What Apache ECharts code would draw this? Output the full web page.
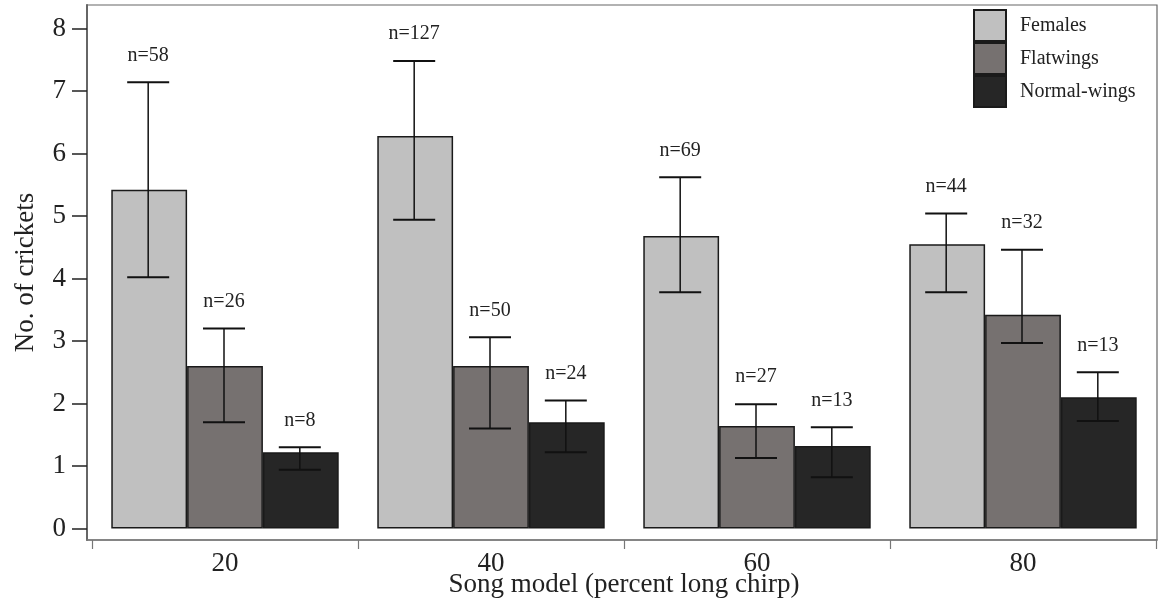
<!DOCTYPE html>
<html>
<head>
<meta charset="utf-8">
<title>Song model</title>
<script src="https://cdn.jsdelivr.net/npm/echarts@6/dist/echarts.min.js"></script>
<style>
  html, body { margin: 0; padding: 0; background: #fff; }
  #main { width: 1158px; height: 604px; }
</style>
</head>
<body>
<div id="main"></div>
<script>
// categories (percent long chirp)
var categories = ['20', '40', '60', '80'];

// mean number of crickets
var females   = [5.42, 6.28, 4.68, 4.55];
var flatwings = [2.60, 2.60, 1.64, 3.42];
var normal    = [1.22, 1.70, 1.32, 2.10];

// error bar ends
var femalesLow  = [4.02, 4.94, 3.78, 3.78];
var femalesHigh = [7.14, 7.48, 5.62, 5.04];
var flatLow     = [1.70, 1.60, 1.13, 2.97];
var flatHigh    = [3.20, 3.06, 1.99, 4.46];
var normalLow   = [0.94, 1.22, 0.82, 1.72];
var normalHigh  = [1.30, 2.05, 1.62, 2.50];

// sample sizes
var femalesN = [58, 127, 69, 44];
var flatN    = [26, 50, 27, 32];
var normalN  = [8, 24, 13, 13];

var yTicks = [0, 1, 2, 3, 4, 5, 6, 7, 8];

var font = '"Liberation Serif", "Times New Roman", serif';
var gapPct = 14.5;
var yMin = -0.184, yMax = 8.376;

var dom = document.getElementById('main');
var myChart = echarts.init(dom);

function errSeries(name, low, high, ns, idx) {
	return {
		name: name + ' err',
		type: 'custom',
		xAxisIndex: 1,
		yAxisIndex: 1,
		z: 10,
		silent: true,
		data: categories.map(function (c, i) {
			return [i, low[i], high[i], ns[i]];
		}),
		renderItem: function (params, api) {
			var x = api.value(0);
			var lo = api.coord([x, api.value(1)]);
			var hi = api.coord([x, api.value(2)]);
			var band = api.size([1, 0])[0];
			var bw = band * (1 - gapPct / 100) / 3;
			var cx = lo[0] + (idx - 1) * bw - 1;
			var half = 21;
			return {
				type: 'group',
				children: [
					{ type: 'line', shape: { x1: cx, y1: hi[1], x2: cx, y2: lo[1] }, style: { stroke: '#111', lineWidth: 1.5 } },
					{ type: 'line', shape: { x1: cx - half, y1: hi[1], x2: cx + half, y2: hi[1] }, style: { stroke: '#111', lineWidth: 2 } },
					{ type: 'line', shape: { x1: cx - half, y1: lo[1], x2: cx + half, y2: lo[1] }, style: { stroke: '#111', lineWidth: 2 } },
					{
						type: 'text',
						style: {
							text: 'n=' + api.value(3),
							x: cx, y: hi[1] - 27,
							align: 'center', verticalAlign: 'middle',
							font: '20px ' + font,
							fill: '#222'
						}
					}
				]
			};
		}
	};
}

function barSeries(name, data, color) {
	return {
		name: name,
		type: 'bar',
		xAxisIndex: 1,
		yAxisIndex: 1,
		data: data,
		barGap: '0%',
		barCategoryGap: gapPct + '%',
		itemStyle: { color: color, borderColor: '#1a1a1a', borderWidth: 1.5 }
	};
}

var option = {
	animation: false,
	backgroundColor: '#fff',
	textStyle: { fontFamily: font },
	grid: [
		// frame + y axis
		{ left: 87, right: 1, top: 5, bottom: 64, show: true, borderColor: '#666', borderWidth: 1.2, outerBoundsMode: 'none' },
		// bars
		{ left: 92, right: 2, top: 5, bottom: 64, outerBoundsMode: 'none' }
	],
	legend: {
		data: ['Females', 'Flatwings', 'Normal-wings'],
		orient: 'vertical',
		left: 973, top: 9,
		padding: 0,
		itemWidth: 32, itemHeight: 31, itemGap: 0,
		icon: 'rect',
		textStyle: { fontFamily: font, fontSize: 20, color: '#222', padding: [0, 0, 0, 9] }
	},
	xAxis: [
		{
			gridIndex: 0,
			type: 'category',
			data: categories,
			axisLine: { onZero: false, lineStyle: { color: '#777', width: 1.5 } },
			axisTick: { show: false },
			axisLabel: { show: false }
		},
		{
			gridIndex: 1,
			type: 'category',
			data: categories,
			name: 'Song model (percent long chirp)',
			nameLocation: 'middle',
			nameGap: 31,
			nameMoveOverlap: false,
			nameTextStyle: { fontFamily: font, fontSize: 27, color: '#222' },
			axisLine: { show: true, onZero: false, lineStyle: { color: '#777', width: 1, opacity: 0 } },
			axisTick: { show: true, length: 9, lineStyle: { color: '#777', width: 1.2, opacity: 1 } },
			axisLabel: { fontFamily: font, fontSize: 27, color: '#222', margin: 10 }
		}
	],
	yAxis: [
		{
			gridIndex: 0,
			type: 'value',
			min: yMin, max: yMax,
			name: 'No. of crickets',
			nameLocation: 'middle',
			nameGap: 48,
			nameMoveOverlap: false,
			nameTextStyle: { fontFamily: font, fontSize: 27, color: '#222' },
			splitLine: { show: false },
			axisLine: { show: true, lineStyle: { color: '#666', width: 2 } },
			axisTick: { show: true, length: 15, customValues: yTicks, lineStyle: { color: '#222', width: 1.5 } },
			axisLabel: { fontFamily: font, fontSize: 27, color: '#222', margin: 21, customValues: yTicks }
		},
		{
			gridIndex: 1,
			type: 'value',
			min: yMin, max: yMax,
			show: false,
			splitLine: { show: false }
		}
	],
	series: [
		barSeries('Females', females, '#c0c0c0'),
		barSeries('Flatwings', flatwings, '#767170'),
		barSeries('Normal-wings', normal, '#262626'),
		errSeries('Females', femalesLow, femalesHigh, femalesN, 0),
		errSeries('Flatwings', flatLow, flatHigh, flatN, 1),
		errSeries('Normal-wings', normalLow, normalHigh, normalN, 2)
	]
};

if (option && typeof option === "object") {
	myChart.setOption(option, true);
}
</script>
</body>
</html>
